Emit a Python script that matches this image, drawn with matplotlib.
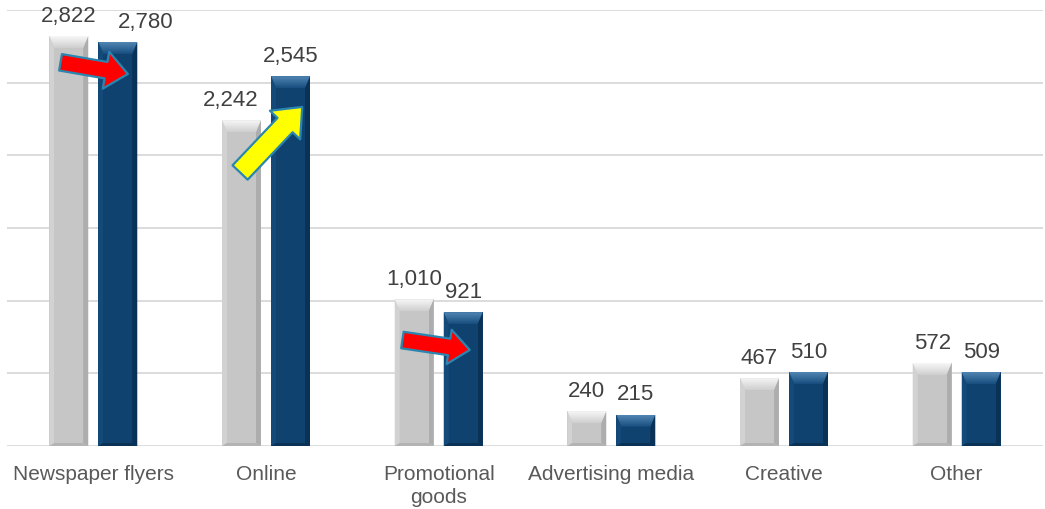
import matplotlib
matplotlib.use("Agg")
import numpy as np
import matplotlib.pyplot as plt
from matplotlib.patches import Polygon, FancyArrowPatch
from matplotlib.colors import LinearSegmentedColormap

plt.rcParams['font.family'] = ['Liberation Sans', 'DejaVu Sans']

categories = ["Newspaper flyers", "Online", "Promotional\ngoods",
              "Advertising media", "Creative", "Other"]
prev_year = [2822, 2242, 1010, 240, 467, 572]
this_year = [2780, 2545, 921, 215, 510, 509]
prev_labels = ["2,822", "2,242", "1,010", "240", "467", "572"]
this_labels = ["2,780", "2,545", "921", "215", "510", "509"]

# horizontal nudges (points) for a couple of value labels
prev_label_dx = [0, -8, 0, 0, 0, 0]
this_label_dx = [20, 0, 0, 0, 0, 0]

# trend arrows: (tail x, tail y, tip x, tip y, colour, (tail w, head w, head len))
arrows = [
    (-0.19, 2640, 0.20, 2560, "#ff0000", (12, 27, 16)),
    (0.85, 1882, 1.21, 2333, "#ffff00", (15, 30, 18)),
    (1.79, 729, 2.18, 661, "#ff0000", (12, 25, 15)),
]

W, H, DPI = 10.45, 5.10, 100
fig = plt.figure(figsize=(W, H), dpi=DPI)
ax = fig.add_axes([7 / 1045, 63 / 510, 1036 / 1045, 436 / 510])
ax.set_xlim(-0.5, 5.5)
ax.set_ylim(0, 3000)

# gridlines
for v in range(500, 3001, 500):
    ax.axhline(v, color="#d9d9d9", lw=1.3, zorder=0)
ax.axhline(0, color="#d9d9d9", lw=2.0, zorder=1)

for s in ax.spines.values():
    s.set_visible(False)
ax.set_yticks([])
ax.set_xticks(range(len(categories)))
ax.set_xticklabels(categories, fontsize=15, color="#595959", linespacing=1.25)
ax.tick_params(axis="x", length=0, pad=13)

bw = 0.225
off = 0.142
x = list(range(len(categories)))
bars_prev = ax.bar([i - off for i in x], prev_year, width=bw, color="#c6c6c6", zorder=2)
bars_this = ax.bar([i + off for i in x], this_year, width=bw, color="#0f426f", zorder=2)

# pixel -> data scale factors for bevel insets
ax_w_px = W * DPI * 1036 / 1045
ax_h_px = H * DPI * 436 / 510
sx = 6.0 / ax_w_px          # data x-units per px
sy = 3000.0 / ax_h_px       # data y-units per px

grad = np.linspace(0, 1, 64).reshape(-1, 1)


def bevel(bar, top_hi, top_lo, left_c, right_c, bot_c, face_c):
    x0 = bar.get_x()
    x1 = x0 + bar.get_width()
    y0 = 0
    y1 = bar.get_height()
    l = 5 * sx
    r = 5 * sx
    t = min(12 * sy, (y1 - y0) * 0.45)
    b = min(3 * sy, (y1 - y0) * 0.12)
    ix0, ix1 = x0 + l, x1 - r
    iy0, iy1 = y0 + b, y1 - t
    polys = [
        ([(x0, y0), (x0, y1), (ix0, iy1), (ix0, iy0)], left_c),
        ([(x1, y0), (x1, y1), (ix1, iy1), (ix1, iy0)], right_c),
        ([(x0, y0), (x1, y0), (ix1, iy0), (ix0, iy0)], bot_c),
        ([(ix0, iy0), (ix1, iy0), (ix1, iy1), (ix0, iy1)], face_c),
    ]
    for pts, c in polys:
        ax.add_patch(Polygon(pts, closed=True, facecolor=c, edgecolor="none", zorder=3))
    # top bevel with a vertical light-to-dark gradient
    top = Polygon([(x0, y1), (x1, y1), (ix1, iy1), (ix0, iy1)], closed=True,
                  facecolor="none", edgecolor="none", zorder=3)
    ax.add_patch(top)
    cmap = LinearSegmentedColormap.from_list("tb", [top_lo, top_hi])
    im = ax.imshow(grad, cmap=cmap, extent=(x0, x1, iy1, y1), origin="lower",
                   aspect="auto", zorder=3.5, interpolation="bilinear")
    im.set_clip_path(top)


for bar in bars_prev:
    bevel(bar, "#f7f7f7", "#cfcfcf", "#d2d2d2", "#adadad", "#b3b3b3", "#c6c6c6")
for bar in bars_this:
    bevel(bar, "#5286b3", "#164e7f", "#144a7a", "#0a3156", "#0a3156", "#0f426f")

ax.set_xlim(-0.5, 5.5)
ax.set_ylim(0, 3000)

# value labels
for bar, lab, dx in zip(bars_prev, prev_labels, prev_label_dx):
    ax.annotate(lab, (bar.get_x() + bar.get_width() / 2, bar.get_height()),
                xytext=(dx, 11), textcoords="offset points", ha="center",
                va="baseline", fontsize=16, color="#404040", zorder=5)
for bar, lab, dx in zip(bars_this, this_labels, this_label_dx):
    ax.annotate(lab, (bar.get_x() + bar.get_width() / 2, bar.get_height()),
                xytext=(dx, 11), textcoords="offset points", ha="center",
                va="baseline", fontsize=16, color="#404040", zorder=5)

# trend arrows
for tx, ty, hx, hy, col, (tw, hw, hl) in arrows:
    arr = FancyArrowPatch((tx, ty), (hx, hy),
                          arrowstyle=f"simple,tail_width={tw},head_width={hw},head_length={hl}",
                          mutation_scale=1, shrinkA=0, shrinkB=0,
                          facecolor=col, edgecolor="#2a86b0", lw=1.6, zorder=6)
    ax.add_patch(arr)

fig.savefig("out.png", dpi=DPI)
